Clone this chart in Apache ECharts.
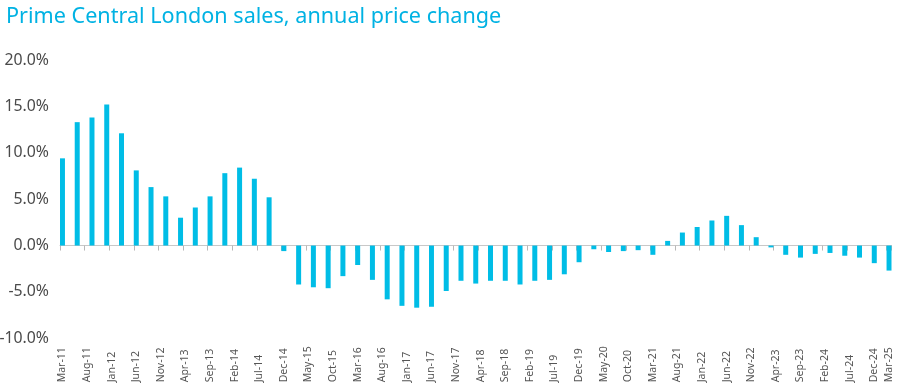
<!DOCTYPE html>
<html>
<head>
<meta charset="utf-8">
<script src="https://cdn.jsdelivr.net/npm/echarts@6/dist/echarts.min.js"></script>
<style>
html,body{margin:0;padding:0;background:#fff;}
#chart{width:900px;height:385px;}
</style>
</head>
<body>
<div id="chart"></div>
<script>
// Quarterly annual price change (%), Mar-11 .. Mar-25
const quarterLabels = [
  'Mar-11','Jun-11','Sep-11','Dec-11','Mar-12','Jun-12','Sep-12','Dec-12',
  'Mar-13','Jun-13','Sep-13','Dec-13','Mar-14','Jun-14','Sep-14','Dec-14',
  'Mar-15','Jun-15','Sep-15','Dec-15','Mar-16','Jun-16','Sep-16','Dec-16',
  'Mar-17','Jun-17','Sep-17','Dec-17','Mar-18','Jun-18','Sep-18','Dec-18',
  'Mar-19','Jun-19','Sep-19','Dec-19','Mar-20','Jun-20','Sep-20','Dec-20',
  'Mar-21','Jun-21','Sep-21','Dec-21','Mar-22','Jun-22','Sep-22','Dec-22',
  'Mar-23','Jun-23','Sep-23','Dec-23','Mar-24','Jun-24','Sep-24','Dec-24',
  'Mar-25'
];
const priceChange = [
  9.4, 13.3, 13.8, 15.2,
  12.1, 8.1, 6.3, 5.3,
  3.0, 4.1, 5.3, 7.8,
  8.4, 7.2, 5.2, -0.6,
  -4.2, -4.5, -4.6, -3.3,
  -2.1, -3.7, -5.8, -6.5,
  -6.7, -6.6, -4.9, -3.8,
  -4.1, -3.8, -3.8, -4.2,
  -3.8, -3.7, -3.1, -1.8,
  -0.4, -0.7, -0.6, -0.5,
  -1.0, 0.5, 1.4, 2.0,
  2.7, 3.2, 2.2, 0.9,
  -0.2, -1.0, -1.3, -0.9,
  -0.8, -1.1, -1.3, -1.9,
  -2.7
];
const monthNames = ['Jan','Feb','Mar','Apr','May','Jun','Jul','Aug','Sep','Oct','Nov','Dec'];
const startYear = 2011, startMonth = 2; // Mar-11
const monthCount = 169; // Mar-11 .. Mar-25 inclusive
const yTicks = [-10, -5, 0, 5, 10, 15, 20];

// Build monthly category axis (labels every 5 months + last)
const months = [];
for (let i = 0; i < monthCount; i++) {
  const m = (startMonth + i) % 12;
  const y = startYear + Math.floor((startMonth + i) / 12);
  months.push(monthNames[m] + '-' + String(y % 100).padStart(2, '0'));
}
const lookup = {};
quarterLabels.forEach((q, i) => { lookup[q] = priceChange[i]; });
const seriesData = months.map(m => (m in lookup ? lookup[m] : '-'));
const showIdx = (i) => i % 5 === 0 || i === monthCount - 1;

const chart = echarts.init(document.getElementById('chart'), null, {renderer: 'canvas'});
chart.setOption({
  animation: false,
  title: {
    text: 'Prime Central London sales, annual price change',
    left: 1, top: 1,
    textStyle: {color: '#00B2E3', fontSize: 21.6, fontWeight: 'normal', fontFamily: 'Noto Sans'}
  },
  grid: {left: 60, right: 8.5, top: 60, bottom: 46.7, containLabel: false, outerBoundsMode: 'none'},
  xAxis: {
    type: 'category',
    data: months,
    boundaryGap: true,
    axisLine: {onZero: true, lineStyle: {color: '#c8c8c8', width: 1}},
    axisTick: {show: true, length: 5, interval: (i) => showIdx(i), lineStyle: {color: '#b8b8b8'}},
    axisLabel: {
      interval: (i) => showIdx(i),
      rotate: 90,
      margin: 44,
      align: 'left',
      verticalAlign: 'middle',
      padding: [0, 0, 5, 0],
      color: '#555',
      fontSize: 10.5,
      fontFamily: 'Noto Sans'
    },
    splitLine: {show: false}
  },
  yAxis: {
    type: 'value',
    min: yTicks[0], max: yTicks[yTicks.length - 1], interval: 5,
    axisLine: {show: false},
    axisTick: {show: false},
    splitLine: {show: false},
    axisLabel: {
      margin: 11,
      color: '#4a4a4a',
      fontSize: 15.8,
      fontFamily: 'Noto Sans',
      formatter: (v) => v.toFixed(1) + '%'
    }
  },
  series: [{
    type: 'bar',
    data: seriesData,
    barWidth: 5,
    itemStyle: {color: '#00BDE6'}
  }]
});
</script>
</body>
</html>
